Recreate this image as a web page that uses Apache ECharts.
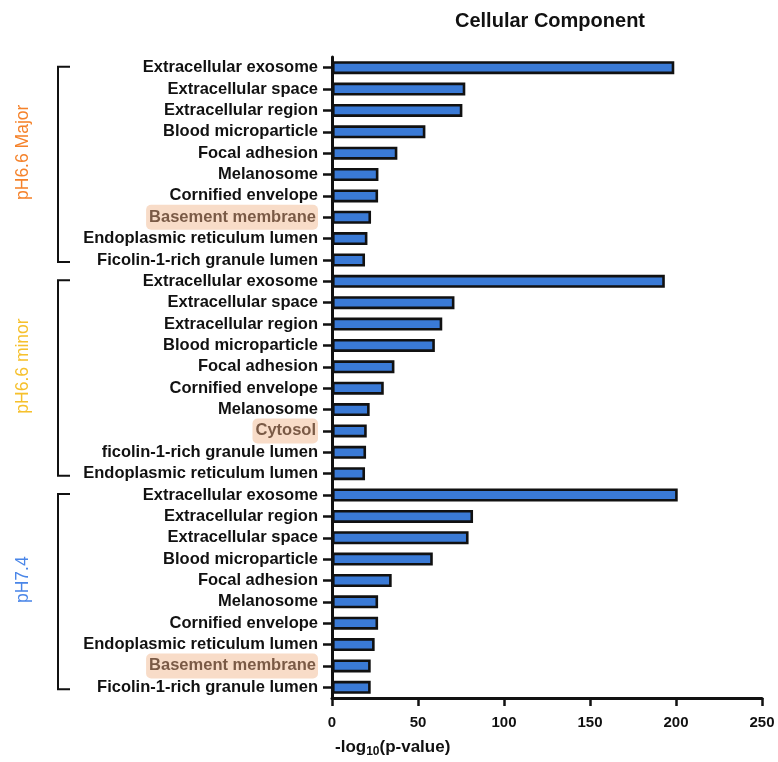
<!DOCTYPE html>
<html>
<head>
<meta charset="utf-8">
<script src="https://cdn.jsdelivr.net/npm/echarts@6/dist/echarts.min.js"></script>
<style>
  html, body { margin: 0; padding: 0; background: #fff; }
  #chart { width: 778px; height: 762px; }
</style>
</head>
<body>
<div id="chart"></div>
<script>
// GO terms, top to bottom, in three condition blocks
const categories = [
  'Extracellular exosome', 'Extracellular space', 'Extracellular region', 'Blood microparticle',
  'Focal adhesion', 'Melanosome', 'Cornified envelope', 'Basement membrane',
  'Endoplasmic reticulum lumen', 'Ficolin-1-rich granule lumen',
  'Extracellular exosome', 'Extracellular space', 'Extracellular region', 'Blood microparticle',
  'Focal adhesion', 'Cornified envelope', 'Melanosome', 'Cytosol',
  'ficolin-1-rich granule lumen', 'Endoplasmic reticulum lumen',
  'Extracellular exosome', 'Extracellular region', 'Extracellular space', 'Blood microparticle',
  'Focal adhesion', 'Melanosome', 'Cornified envelope', 'Endoplasmic reticulum lumen',
  'Basement membrane', 'Ficolin-1-rich granule lumen'
];

// -log10(p-value) per term
const valuesMajor = [199, 77.5, 75.8, 54.3, 38, 27, 26.8, 22.7, 20.6, 19.2];
const valuesMinor = [193.5, 71.2, 64.1, 59.8, 36.3, 30.1, 21.9, 20.2, 19.8, 19.2];
const values74   = [201, 82, 79.4, 58.6, 34.7, 26.8, 26.8, 24.8, 22.5, 22.5];
const values = valuesMajor.concat(valuesMinor, values74);

// rows whose label gets a shaded background
const highlighted = [7, 17, 28];

// condition blocks: label, colour, first and last row
const groupNames  = ['pH6.6 Major', 'pH6.6 minor', 'pH7.4'];
const groupColors = ['#f5822a', '#f6c02c', '#4a86e8'];
const groupRanges = [[0, 9], [10, 19], [20, 29]];

const xTicks = [0, 50, 100, 150, 200, 250];

const chart = echarts.init(document.getElementById('chart'), null, { renderer: 'canvas' });
const FONT = '"Liberation Sans", Arial, Helvetica, sans-serif';

const grid = { left: 332, top: 57, width: 430, height: 641 };

const option = {
  animation: false,
  backgroundColor: '#ffffff',
  title: {
    text: 'Cellular Component',
    left: grid.left + grid.width / 2 - 2,
    textAlign: 'center',
    top: 6,
    textStyle: { fontFamily: FONT, fontWeight: 'bold', fontSize: 20, color: '#111' }
  },
  grid: grid,
  xAxis: {
    type: 'value',
    min: xTicks[0],
    max: xTicks[xTicks.length - 1],
    interval: xTicks[1] - xTicks[0],
    splitLine: { show: false },
    axisLine: { show: true, onZero: false, lineStyle: { color: '#111', width: 3 } },
    axisTick: { show: true, length: 8, lineStyle: { color: '#111', width: 2.5 } },
    axisLabel: {
      margin: 17,
      fontFamily: FONT, fontWeight: 'bold', fontSize: 15, color: '#111'
    }
  },
  yAxis: {
    type: 'category',
    inverse: true,
    data: categories,
    axisLine: { show: true, lineStyle: { color: '#111', width: 3 } },
    axisTick: { show: true, alignWithLabel: true, length: 9, lineStyle: { color: '#111', width: 2.5 } },
    axisLabel: {
      margin: 14,
      interval: 0,
      formatter: function (val, idx) {
        return highlighted.indexOf(idx) >= 0 ? '{hl|' + val + '}' : '{n|' + val + '}';
      },
      rich: {
        n: { fontFamily: FONT, fontWeight: 'bold', fontSize: 16.5, color: '#111' },
        hl: {
          fontFamily: FONT, fontWeight: 'bold', fontSize: 16.5, color: '#7a5a46',
          backgroundColor: '#f8dcc8', borderRadius: 5, padding: [4, 2, 4, 3]
        }
      }
    }
  },
  series: [{
    type: 'bar',
    data: values,
    barWidth: 13,
    itemStyle: { color: '#3a7ad6', borderColor: '#111', borderWidth: 2.6 }
  }]
};

chart.setOption(option);

// brackets and rotated condition labels placed from the category scale
function rowY(i) { return chart.convertToPixel({ yAxisIndex: 0 }, i); }
const elements = [];
const bx = 58, bArm = 12;
groupRanges.forEach(function (r, g) {
  const y0 = rowY(r[0]) - 1, y1 = rowY(r[1]) + 2;
  elements.push({
    type: 'polyline',
    shape: { points: [[bx + bArm, y0], [bx, y0], [bx, y1], [bx + bArm, y1]] },
    style: { stroke: '#111', lineWidth: 2, fill: null }
  });
  elements.push({
    type: 'text',
    x: 23, y: (y0 + y1) / 2 - 12,
    rotation: Math.PI / 2,
    style: {
      text: groupNames[g], fill: groupColors[g],
      font: '17.5px ' + FONT, align: 'center', verticalAlign: 'middle'
    }
  });
});
// x-axis title with subscript
elements.push({
  type: 'text',
  x: grid.left + 3, y: 747,
  style: {
    text: '-log{sub|10}(p-value)',
    font: 'bold 17px ' + FONT, fill: '#111', verticalAlign: 'middle',
    rich: {
      sub: { font: 'bold 12px ' + FONT, fill: '#111', padding: [9, 0, 0, 0] }
    }
  }
});
chart.setOption({ graphic: { elements: elements } });
</script>
</body>
</html>
